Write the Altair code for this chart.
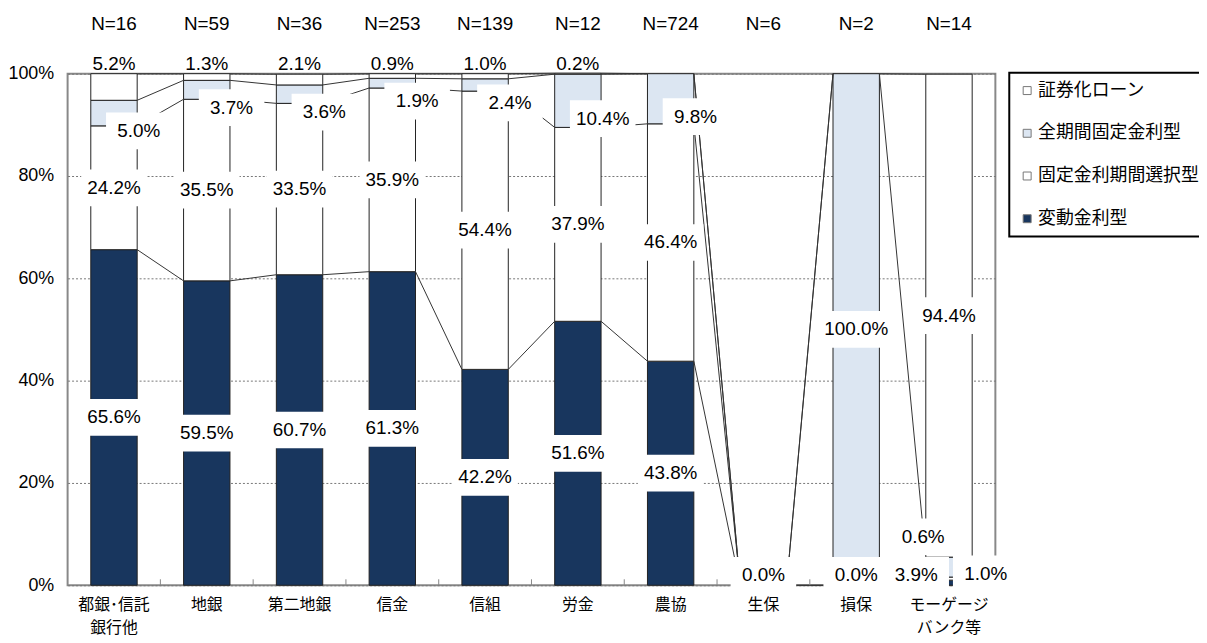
import altair as alt
import pandas as pd

# ---------------- data ----------------
categories = ["都銀･信託\n銀行他", "地銀", "第二地銀", "信金", "信組", "労金", "農協", "生保", "損保", "モーゲージ\nバンク等"]
n_labels = ["N=16", "N=59", "N=36", "N=253", "N=139", "N=12", "N=724", "N=6", "N=2", "N=14"]
series = ["変動金利型", "固定金利期間選択型", "全期間固定金利型", "証券化ローン"]
hendo = [65.6, 59.5, 60.7, 61.3, 42.2, 51.6, 43.8, 0.0, 0.0, 1.0]
kotei_sentaku = [24.2, 35.5, 33.5, 35.9, 54.4, 37.9, 46.4, 0.0, 0.0, 0.6]
zenkikan = [5.0, 3.7, 3.6, 1.9, 2.4, 10.4, 9.8, 0.0, 100.0, 3.9]
shoken = [5.2, 1.3, 2.1, 0.9, 1.0, 0.2, 0.0, 0.0, 0.0, 94.4]
values = [hendo, kotei_sentaku, zenkikan, shoken]

# ---------------- layout constants ----------------
W, H = 934, 515
BAND = W / len(categories)
PXPCT = H / 100.0
HALF = 0.25
NUMFONT = "Liberation Sans Narrow, Liberation Sans, sans-serif"
JPFONT = "Noto Sans CJK JP, sans-serif"
NUMSIZE = 19

colors = {"証券化ローン": "#FFFFFF", "全期間固定金利型": "#DCE6F2",
          "固定金利期間選択型": "#FFFFFF", "変動金利型": "#18365E"}
legend_order = ["証券化ローン", "全期間固定金利型", "固定金利期間選択型", "変動金利型"]

# label nudges (pixels) for crowded labels
nudge = {(9, "変動金利型"): (37, -9), (9, "固定金利期間選択型"): (-26, -42),
         (9, "全期間固定金利型"): (-33, 8)}

bars, lines, labels = [], [], []
cums = []
for i, cat in enumerate(categories):
    c = 0.0
    cc = []
    for s, vals in zip(series, values):
        v = vals[i]
        y0, y1 = c, c + v
        c = y1
        cc.append(c)
        if v > 0:
            bars.append(dict(x0=i - HALF, x1=i + HALF, y0=y0, y1=y1, series=s))
        show = v > 0 or s == "変動金利型"
        if not show:
            continue
        y = (y0 + y1) / 2
        dxp, dyp, box = 0, 0, True
        if s == "全期間固定金利型" and v < 20:
            dxp, dyp = 25, 18
        if s == "証券化ローン" and v < 20:
            y, dyp, box = 100, -10, False
        if v == 0:
            dyp = -10
        if (i, s) in nudge:
            dxp, dyp = nudge[(i, s)]
        labels.append(dict(lx=i + dxp / BAND, ly=y - dyp / PXPCT,
                           text=f"{v:.1f}%", box=box))
    cums.append(cc)

for i in range(len(categories) - 1):
    for k in range(len(series)):
        lines.append(dict(xa=i + HALF, ya=cums[i][k], xb=i + 1 - HALF, yb=cums[i + 1][k]))

bars_df = pd.DataFrame(bars)
lines_df = pd.DataFrame(lines)
labels_df = pd.DataFrame(labels)
cat_df = pd.DataFrame({"idx": list(range(len(categories))), "cat": categories, "n": n_labels})
bound_df = pd.DataFrame({"b": [i + 0.5 for i in range(len(categories) - 1)]})

xscale = alt.Scale(domain=[-0.5, len(categories) - 0.5], nice=False, zero=False)
yscale = alt.Scale(domain=[0, 100], nice=False)

bar_layer = alt.Chart(bars_df).mark_bar(stroke="#222222", strokeWidth=1).encode(
    x=alt.X("x0:Q", scale=xscale, axis=None),
    x2="x1:Q",
    y=alt.Y("y0:Q", scale=yscale,
            axis=alt.Axis(values=[0, 20, 40, 60, 80, 100], labelExpr="datum.value + '%'",
                          title=None, domain=False, ticks=False, grid=True,
                          gridDash=[2, 2], gridColor="#777777", labelFontSize=18,
                          labelPadding=14, labelColor="#000000", labelFont=NUMFONT)),
    y2="y1:Q",
    color=alt.Color("series:N",
                    scale=alt.Scale(domain=legend_order, range=[colors[s] for s in legend_order]),
                    legend=alt.Legend(title=None, orient="none", legendX=948, legendY=-1,
                                      symbolType="square", symbolSize=64,
                                      symbolStrokeColor="#777777", symbolStrokeWidth=1,
                                      labelFontSize=18, labelFont=JPFONT, labelColor="#000000",
                                      rowPadding=25, padding=9, labelOffset=2,
                                      strokeColor="#000000", labelLimit=300)),
)

line_layer = alt.Chart(lines_df).mark_rule(color="#333333", strokeWidth=1).encode(
    x=alt.X("xa:Q", scale=xscale), x2="xb:Q",
    y=alt.Y("ya:Q", scale=yscale), y2="yb:Q",
)

tick_layer = alt.Chart(bound_df).mark_rule(color="#888888", strokeWidth=1).encode(
    x=alt.X("b:Q", scale=xscale), y=alt.value(H), y2=alt.value(H - 6),
)

box_layer = alt.Chart(labels_df).transform_filter("datum.box").mark_point(
    shape="M-1,-0.56L1,-0.56L1,0.56L-1,0.56Z", filled=True, fill="#FFFFFF",
    opacity=1, strokeWidth=0, size=4356,
).encode(x=alt.X("lx:Q", scale=xscale), y=alt.Y("ly:Q", scale=yscale))

text_layer = alt.Chart(labels_df).mark_text(
    font=NUMFONT, fontSize=NUMSIZE, color="#000000", baseline="middle", align="center"
).encode(x=alt.X("lx:Q", scale=xscale), y=alt.Y("ly:Q", scale=yscale), text="text:N")

n_layer = alt.Chart(cat_df).mark_text(
    font=NUMFONT, fontSize=NUMSIZE, color="#000000", baseline="middle", align="center"
).encode(x=alt.X("idx:Q", scale=xscale), y=alt.value(-50), text="n:N")

cat_layer = alt.Chart(cat_df).mark_text(
    font=JPFONT, fontSize=16, color="#000000", baseline="top", align="center",
    lineBreak="\n", lineHeight=23,
).encode(x=alt.X("idx:Q", scale=xscale), y=alt.value(H + 12), text="cat:N")

chart = alt.layer(
    bar_layer, line_layer, tick_layer, box_layer, text_layer, n_layer, cat_layer
).properties(
    width=W, height=H,
    autosize=alt.AutoSizeParams(type="none"),
    padding={"left": 60, "top": 64, "right": 205, "bottom": 56},
    background="#FFFFFF",
).configure_view(
    stroke="#888888", strokeWidth=2
).configure_legend(
    strokeWidth=2
)

chart.save("out.html", embed_options={"renderer": "svg", "actions": False})
